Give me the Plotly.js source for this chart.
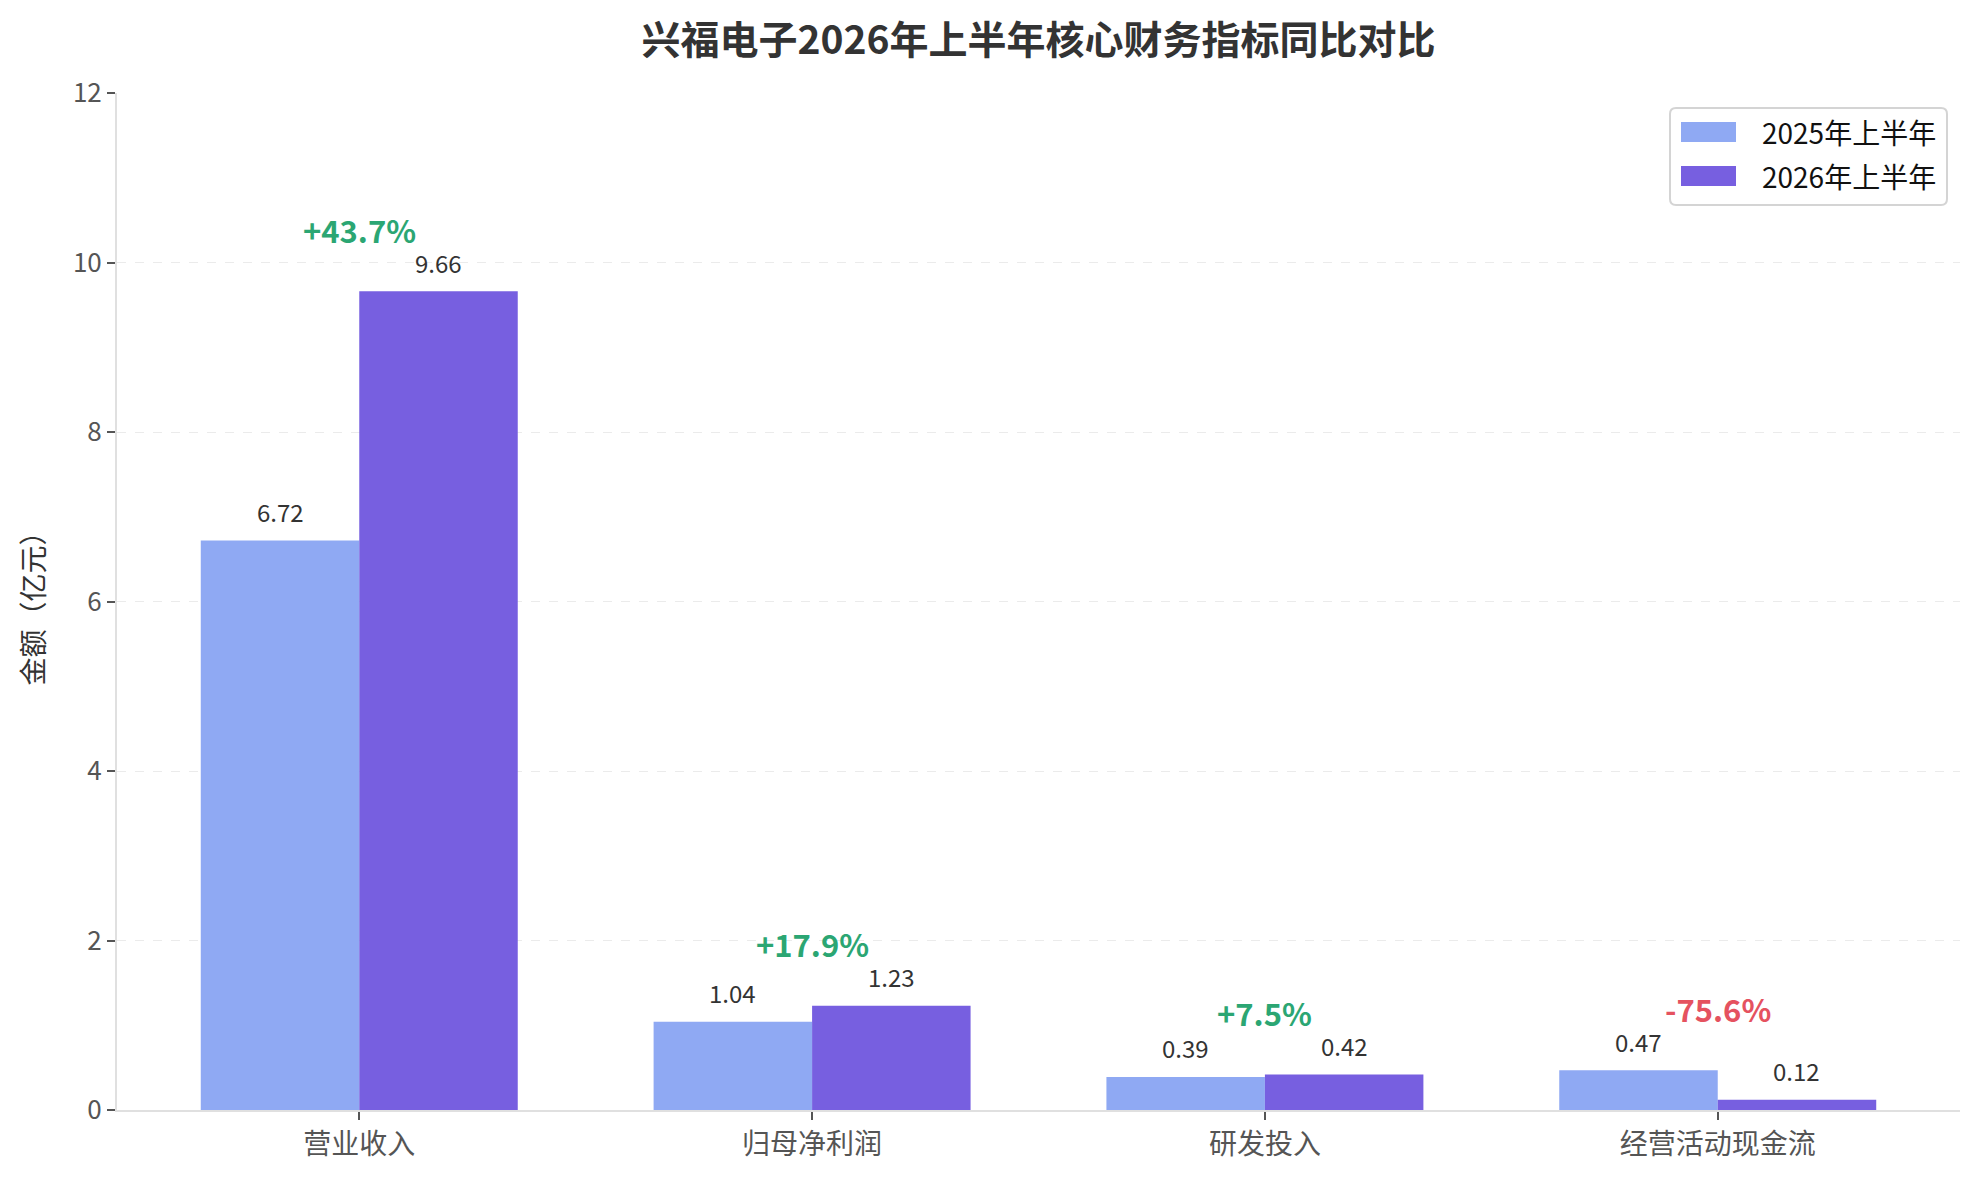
<!DOCTYPE html>
<html>
<head>
<meta charset="utf-8">
<script src="https://cdn.plot.ly/plotly-3.0.1.min.js"></script>
<style>
  html, body { margin: 0; padding: 0; background: #fff; }
  #chart { width: 1979px; height: 1178px; }
</style>
</head>
<body>
<div id="chart"></div>
<script>
var categories = ['营业收入', '归母净利润', '研发投入', '经营活动现金流'];
var h1_2025 = [6.72, 1.04, 0.39, 0.47];
var h1_2026 = [9.66, 1.23, 0.42, 0.12];
var yoyPct = [43.7, 17.9, 7.5, -75.6];
var seriesNames = ['2025年上半年', '2026年上半年'];
var seriesColors = ['#8fa9f3', '#775fe0'];

var FONT = '"Noto Sans CJK SC", "Microsoft YaHei", sans-serif';
var barW = 0.35;

var data = [{
    type: 'bar',
    name: seriesNames[0],
    x: categories,
    y: h1_2025,
    marker: {color: seriesColors[0]},
    hoverinfo: 'x+y+name'
  }, {
    type: 'bar',
    name: seriesNames[1],
    x: categories,
    y: h1_2026,
    marker: {color: seriesColors[1]},
    hoverinfo: 'x+y+name'
  }];

var annotations = [];
categories.forEach(function (c, i) {
  // value labels over each bar
  annotations.push({
    x: i - barW / 2, y: h1_2025[i], xref: 'x', yref: 'y',
    text: h1_2025[i].toFixed(2), showarrow: false,
    yanchor: 'middle', yshift: 29,
    font: {family: FONT, size: 24, color: '#333333'}
  });
  annotations.push({
    x: i + barW / 2, y: h1_2026[i], xref: 'x', yref: 'y',
    text: h1_2026[i].toFixed(2), showarrow: false,
    yanchor: 'middle', yshift: 29,
    font: {family: FONT, size: 24, color: '#333333'}
  });
  // year-on-year change
  var p = yoyPct[i];
  annotations.push({
    x: i, y: Math.max(h1_2025[i], h1_2026[i]), xref: 'x', yref: 'y',
    text: '<b>' + (p >= 0 ? '+' : '') + p.toFixed(1) + '%</b>',
    showarrow: false, yanchor: 'middle', yshift: 62,
    font: {family: FONT, size: 31, color: p >= 0 ? '#2ba673' : '#e5525f'}
  });
});

// legend drawn by hand so the swatches are wide like the original
var shapes = [{
  type: 'path', xref: 'paper', yref: 'paper',
  xsizemode: 'pixel', ysizemode: 'pixel', xanchor: 1, yanchor: 1,
  path: 'M-284,-15 L-19,-15 Q-13,-15 -13,-21 L-13,-106 Q-13,-112 -19,-112 ' +
        'L-284,-112 Q-290,-112 -290,-106 L-290,-21 Q-290,-15 -284,-15 Z',
  line: {color: '#d4d4d4', width: 2},
  fillcolor: 'rgba(255,255,255,0.85)',
  layer: 'above'
}];
seriesNames.forEach(function (n, k) {
  var top = -29 - k * 44;
  shapes.push({
    type: 'rect', xref: 'paper', yref: 'paper',
    xsizemode: 'pixel', ysizemode: 'pixel', xanchor: 1, yanchor: 1,
    x0: -279, x1: -224, y0: top, y1: top - 20,
    line: {width: 0}, fillcolor: seriesColors[k], layer: 'above'
  });
  annotations.push({
    xref: 'paper', yref: 'paper', x: 1, y: 1,
    xanchor: 'left', yanchor: 'middle',
    xshift: -200, yshift: top - 10,
    text: n, showarrow: false,
    font: {family: FONT, size: 28, color: '#111111'}
  });
});

var layout = {
  width: 1979,
  height: 1178,
  margin: {l: 117, r: 19, t: 93, b: 68, pad: 0},
  paper_bgcolor: '#ffffff',
  plot_bgcolor: '#ffffff',
  font: {family: FONT, color: '#555555'},
  title: {
    text: '<b>兴福电子2026年上半年核心财务指标同比对比</b>',
    font: {family: FONT, size: 39, color: '#333333'},
    xref: 'paper', x: 0.5, xanchor: 'center', y: 0.966, yanchor: 'middle'
  },
  barmode: 'group',
  bargap: 0.3,
  bargroupgap: 0,
  xaxis: {
    type: 'category',
    range: [-0.535, 3.535],
    showgrid: false,
    showline: true, linecolor: '#e0e0e0', linewidth: 2,
    ticks: 'outside', ticklen: 8, tickwidth: 1.5, tickcolor: '#555555',
    tickfont: {family: FONT, size: 28, color: '#555555'},
    zeroline: false
  },
  yaxis: {
    range: [0, 12],
    dtick: 2,
    tick0: 0,
    showgrid: true, gridcolor: '#ebebeb', gridwidth: 1, griddash: 'dash',
    showline: true, linecolor: '#e0e0e0', linewidth: 2,
    ticks: 'outside', ticklen: 8, tickwidth: 1.5, tickcolor: '#555555',
    tickfont: {family: FONT, size: 26, color: '#555555'},
    zeroline: false,
    title: {
      text: '金额（亿元）',
      font: {family: FONT, size: 28, color: '#333333'},
      standoff: 20
    }
  },
  showlegend: false,
  shapes: shapes,
  annotations: annotations
};

Plotly.newPlot('chart', data, layout, {displayModeBar: false});
</script>
</body>
</html>
